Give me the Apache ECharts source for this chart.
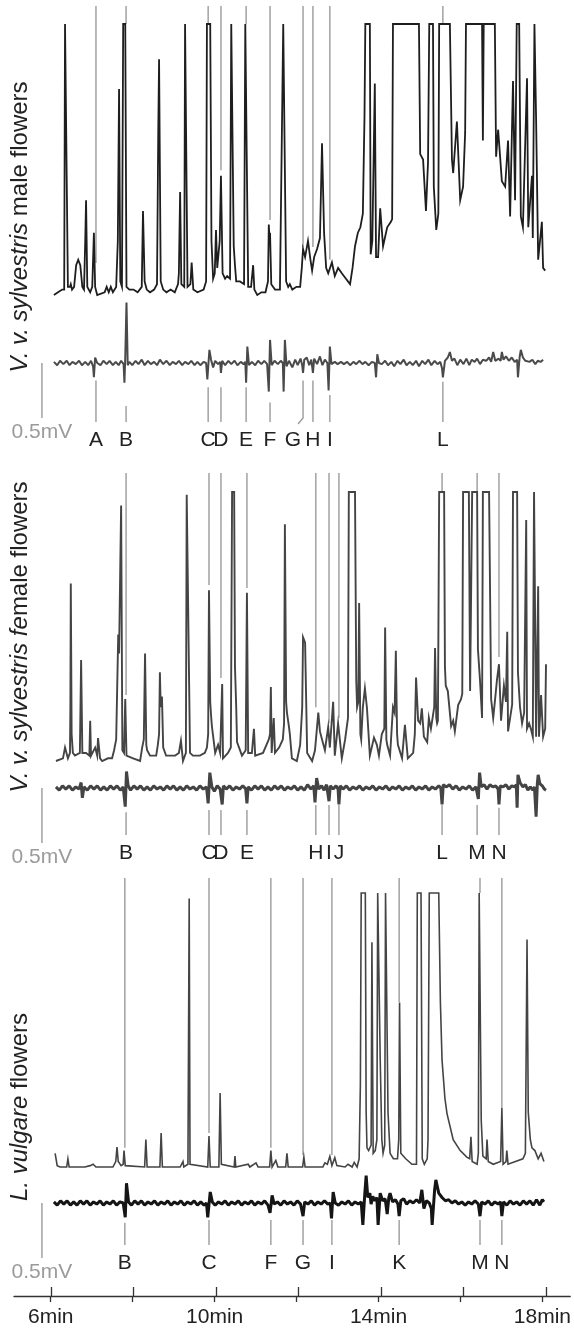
<!DOCTYPE html>
<html>
<head>
<meta charset="utf-8">
<script src="https://cdn.jsdelivr.net/npm/echarts@6/dist/echarts.min.js"></script>
<style>
  html, body { margin: 0; padding: 0; background: #fff; }
  #main { width: 574px; height: 1331px; }
</style>
</head>
<body>
<div id="main"></div>
<script>
// time axis (minutes)
var timeTicks = [6, 8, 10, 12, 14, 16, 18];
var timeLabels = [6, 10, 14, 18];
var scaleBarTime = 5.78;
var scaleBarMv = 0.5;

var titles = [
  '{i|V. v. sylvestris}{n| male flowers}',
  '{i|V. v. sylvestris fe}{n|male flowers}',
  '{i|L. vulgare}{n| flowers}'
];

// ---- panel 1 : V. v. sylvestris male flowers ----
// FID trace, [min, % of detector range]
var p1Fid = [[6.07,0],[6.17,1],[6.27,2],[6.32,2],[6.34,100],[6.38,100],[6.41,3],[6.46,3],[6.48,4],[6.51,2],[6.56,3],[6.61,11],[6.66,13],[6.71,11],[6.76,3],[6.80,2],[6.83,20],[6.85,35],[6.88,3],[6.95,1],[7.00,3],[7.04,23],[7.07,3],[7.12,0],[7.30,1],[7.35,3],[7.40,1],[7.45,3],[7.50,1],[7.58,3],[7.62,20],[7.65,76],[7.68,5],[7.72,3],[7.75,100],[7.80,100],[7.83,3],[7.90,2],[8.00,2],[8.10,1],[8.20,3],[8.23,31],[8.27,5],[8.32,2],[8.40,1],[8.50,2],[8.57,4],[8.60,60],[8.62,87],[8.66,5],[8.72,2],[8.80,1],[8.90,2],[9.00,1],[9.08,4],[9.10,8],[9.13,38],[9.16,4],[9.23,3],[9.25,100],[9.28,100],[9.31,3],[9.38,4],[9.41,12],[9.45,2],[9.55,1],[9.70,2],[9.76,5],[9.78,100],[9.86,100],[9.89,20],[9.93,6],[9.97,8],[10.00,24],[10.03,10],[10.06,15],[10.09,20],[10.12,44],[10.16,8],[10.22,6],[10.27,7],[10.34,6],[10.37,100],[10.40,100],[10.43,18],[10.46,11],[10.49,5],[10.58,5],[10.68,4],[10.71,100],[10.75,100],[10.78,3],[10.85,3],[10.90,11],[10.93,2],[11.00,0],[11.10,1],[11.20,1],[11.26,5],[11.28,26],[11.30,20],[11.31,23],[11.34,4],[11.43,2],[11.55,2],[11.63,100],[11.67,100],[11.70,5],[11.75,3],[11.79,4],[11.85,2],[11.95,3],[12.04,3],[12.08,10],[12.11,17],[12.16,14],[12.23,20],[12.29,13],[12.33,9],[12.38,14],[12.45,17],[12.52,21],[12.57,56],[12.62,23],[12.67,10],[12.72,8],[12.81,12],[12.88,7],[12.96,10],[13.05,8],[13.15,6],[13.25,4],[13.31,10],[13.37,18],[13.44,23],[13.50,25],[13.56,30],[13.60,66],[13.62,100],[13.73,100],[13.75,15],[13.79,20],[13.85,78],[13.88,14],[13.93,14],[13.98,32],[14.05,18],[14.15,25],[14.24,27],[14.27,28],[14.29,100],[14.92,100],[14.95,52],[15.02,50],[15.09,31],[15.14,49],[15.17,100],[15.26,100],[15.28,40],[15.34,24],[15.39,30],[15.41,100],[15.67,100],[15.72,50],[15.75,45],[15.84,64],[15.92,35],[15.99,40],[16.04,60],[16.06,100],[16.45,100],[16.47,57],[16.49,100],[16.76,100],[16.79,51],[16.84,61],[16.93,42],[17.01,40],[17.08,57],[17.13,29],[17.20,79],[17.25,35],[17.29,100],[17.35,100],[17.39,29],[17.44,25],[17.54,80],[17.57,25],[17.66,44],[17.68,21],[17.72,100],[17.76,65],[17.81,13],[17.90,27],[17.93,10],[17.98,9]];
// EAD trace, [min, mV]
var p1Ead = [[6.07,0.01],[6.15,-0.02],[6.22,0.02],[6.30,-0.01],[6.38,0.02],[6.45,-0.02],[6.52,0.01],[6.60,-0.01],[6.68,0.02],[6.75,-0.02],[6.83,0.01],[6.90,-0.02],[6.97,0.02],[7.02,-0.03],[7.04,-0.13],[7.07,0.05],[7.12,0],[7.20,-0.02],[7.27,0.02],[7.35,-0.01],[7.42,0.02],[7.50,-0.02],[7.57,0.01],[7.64,-0.02],[7.70,0.02],[7.76,-0.01],[7.78,-0.18],[7.80,0.05],[7.83,0.55],[7.86,-0.02],[7.90,0.01],[7.97,-0.02],[8.05,0.02],[8.12,-0.01],[8.20,0.03],[8.27,-0.02],[8.35,0.02],[8.42,-0.01],[8.50,0.01],[8.57,-0.02],[8.64,0.03],[8.72,-0.01],[8.80,0.02],[8.88,-0.02],[8.95,0.01],[9.03,-0.01],[9.10,0.02],[9.18,-0.02],[9.25,0.01],[9.33,-0.01],[9.40,0.02],[9.48,-0.02],[9.55,0.01],[9.62,-0.02],[9.70,0.01],[9.76,0],[9.79,-0.15],[9.84,0.12],[9.88,0.03],[9.93,-0.04],[9.98,0.02],[10.05,-0.01],[10.10,0.01],[10.12,-0.09],[10.15,0.02],[10.22,-0.02],[10.30,0.02],[10.37,-0.01],[10.45,0.02],[10.52,-0.02],[10.60,0.01],[10.67,-0.01],[10.71,0.01],[10.73,-0.18],[10.76,0.15],[10.80,-0.02],[10.87,0.01],[10.95,-0.02],[11.02,0.02],[11.10,-0.01],[11.17,0.02],[11.24,-0.01],[11.28,-0.26],[11.31,0.21],[11.35,-0.02],[11.42,0.02],[11.50,-0.01],[11.57,0.02],[11.62,0],[11.64,-0.26],[11.67,0.21],[11.71,-0.03],[11.77,0.02],[11.85,-0.04],[11.92,0.03],[11.98,-0.02],[12.05,0.04],[12.09,-0.02],[12.11,-0.09],[12.14,0.03],[12.20,0.05],[12.26,-0.02],[12.31,0.03],[12.35,-0.09],[12.38,0.04],[12.45,-0.01],[12.52,0.06],[12.58,-0.02],[12.64,0.03],[12.70,0],[12.73,-0.25],[12.76,0.15],[12.80,-0.01],[12.88,0.01],[12.95,-0.01],[13.03,0.01],[13.10,-0.01],[13.18,0.01],[13.25,-0.02],[13.33,0.01],[13.40,-0.01],[13.48,0.02],[13.55,-0.01],[13.62,0.01],[13.70,-0.02],[13.78,0.01],[13.85,0],[13.88,-0.13],[13.91,0.08],[13.95,0],[14.02,-0.01],[14.10,0.02],[14.17,-0.02],[14.25,0.01],[14.32,-0.03],[14.40,0.02],[14.47,-0.01],[14.55,0.03],[14.62,-0.02],[14.70,0.01],[14.77,-0.02],[14.85,0.02],[14.92,-0.03],[15.00,0.02],[15.07,-0.01],[15.15,0.03],[15.22,-0.02],[15.30,0.02],[15.37,-0.01],[15.44,0.01],[15.48,-0.05],[15.50,-0.13],[15.55,0.02],[15.62,0.05],[15.67,0.10],[15.72,0.02],[15.78,0.04],[15.85,-0.02],[15.92,0.03],[16.00,-0.01],[16.07,0.04],[16.14,-0.02],[16.20,0.03],[16.27,0.01],[16.33,0.04],[16.40,-0.01],[16.47,0.03],[16.55,0.02],[16.62,0.05],[16.67,0.01],[16.72,0.10],[16.77,0.02],[16.85,0.04],[16.90,0.02],[16.93,0.10],[16.97,0.03],[17.03,0.06],[17.10,0.02],[17.17,0.05],[17.24,0.01],[17.30,0.03],[17.32,-0.13],[17.36,0.05],[17.39,0.12],[17.44,0.05],[17.50,0.02],[17.54,0.03],[17.60,0.01],[17.67,0.03],[17.74,-0.01],[17.80,0.02],[17.87,0.01],[17.93,0.03]];
var p1Labels = ['A', 'B', 'C', 'D', 'E', 'F', 'G', 'H', 'I', 'L'];
var p1LabelTimes = [7.09, 7.82, 9.81, 10.12, 10.73, 11.31, 12.11, 12.35, 12.76, 15.50];
var p1TopStop = [11.8, 100, 100, 46, 100, 27.7, 17.7, 17.7, 13, 100];
var p1BottomStop = [-0.16, -0.39, -0.22, -0.22, -0.22, -0.36, -0.16, -0.16, -0.29, -0.17];

// ---- panel 2 : V. v. sylvestris female flowers ----
var p2Fid = [[6.12,0],[6.29,1],[6.34,5],[6.41,1],[6.46,3],[6.47,20],[6.48,66],[6.50,10],[6.53,3],[6.58,2],[6.70,3],[6.73,37.5],[6.76,3],[6.85,3],[6.93,2],[6.95,15],[6.97,2],[7.07,5],[7.12,2],[7.14,8.5],[7.19,1],[7.24,0],[7.38,1],[7.48,1],[7.53,4],[7.58,8],[7.63,47],[7.65,40],[7.70,95],[7.73,4],[7.77,3],[7.80,23],[7.83,2],[7.99,1],[8.16,0],[8.21,5],[8.25,8],[8.28,40],[8.31,6],[8.33,4],[8.40,2],[8.55,2],[8.59,6],[8.62,10],[8.64,33],[8.66,20],[8.69,24],[8.72,5],[8.79,2],[9.01,2],[9.10,3],[9.15,7.5],[9.20,0],[9.27,3],[9.29,99],[9.33,99],[9.37,3],[9.44,2],[9.61,2],[9.73,3],[9.78,5],[9.81,10],[9.83,63.5],[9.86,22],[9.88,17],[9.90,13],[9.98,3],[10.05,6],[10.10,3],[10.15,28.6],[10.17,1],[10.29,3],[10.36,5],[10.39,100],[10.44,100],[10.46,35],[10.49,20],[10.51,7],[10.63,2],[10.72,4],[10.75,62.5],[10.78,3],[10.87,3],[10.92,12],[10.95,2],[11.14,3],[11.28,8],[11.31,10],[11.33,27.5],[11.35,3],[11.40,16],[11.43,3],[11.53,5],[11.62,8],[11.65,14],[11.67,88],[11.70,22],[11.72,18],[11.77,12.6],[11.79,10],[11.84,1],[11.96,0],[12.04,6],[12.09,20],[12.11,46],[12.16,44],[12.21,3],[12.33,0],[12.40,4],[12.48,18],[12.52,11],[12.57,8],[12.64,4],[12.72,12.6],[12.76,5],[12.84,22],[12.88,2],[12.96,14],[13.05,1],[13.13,8],[13.20,16],[13.22,100],[13.37,100],[13.40,30],[13.42,20],[13.45,22],[13.47,58.7],[13.50,10],[13.52,8],[13.56,20],[13.61,27],[13.66,19.6],[13.73,2],[13.83,8.7],[13.90,6],[13.95,2],[14.02,10],[14.08,12],[14.10,49.6],[14.13,8],[14.15,6],[14.22,2],[14.29,20],[14.33,18],[14.36,41],[14.39,10],[14.41,6],[14.51,1],[14.58,13.4],[14.65,1],[14.78,3],[14.82,10],[14.85,31],[14.90,15],[14.95,14],[14.99,19.6],[15.04,9],[15.12,7],[15.16,16],[15.21,12],[15.26,17],[15.29,20],[15.31,42],[15.34,16],[15.36,14],[15.38,15],[15.41,100],[15.53,100],[15.55,35],[15.57,28],[15.62,26],[15.70,13],[15.75,15],[15.79,11],[15.87,20.8],[15.94,23],[15.97,25],[15.99,100],[16.13,100],[16.16,26],[16.18,26],[16.21,100],[16.33,100],[16.35,41.6],[16.40,30],[16.45,16],[16.47,100],[16.62,100],[16.67,23],[16.72,16],[16.76,22],[16.81,30],[16.86,36],[16.91,15],[16.98,28],[17.03,22],[17.06,48],[17.08,11],[17.13,16],[17.18,21],[17.20,100],[17.30,100],[17.32,33],[17.37,20],[17.42,14],[17.47,18],[17.52,89.6],[17.54,12],[17.59,14],[17.64,11.6],[17.68,9],[17.71,100],[17.73,100],[17.76,9],[17.81,65],[17.83,9],[17.88,24.5],[17.93,9],[17.98,12],[18.00,36]];
var p2Ead = [[6.12,0.01],[6.20,-0.02],[6.28,0.02],[6.36,-0.01],[6.44,0.02],[6.52,-0.02],[6.60,0.01],[6.68,-0.01],[6.73,0.05],[6.76,-0.09],[6.80,0.01],[6.88,-0.02],[6.96,0.02],[7.04,-0.01],[7.12,0.02],[7.20,-0.02],[7.28,0.01],[7.36,-0.02],[7.44,0.02],[7.52,-0.01],[7.60,0.02],[7.68,-0.02],[7.75,0.01],[7.80,-0.17],[7.83,0.15],[7.87,0.02],[7.93,-0.02],[8.01,0.02],[8.09,-0.01],[8.17,0.02],[8.25,-0.02],[8.33,0.01],[8.41,-0.02],[8.49,0.02],[8.57,-0.01],[8.65,0.01],[8.73,-0.02],[8.81,0.02],[8.89,-0.01],[8.97,0.02],[9.05,-0.02],[9.13,0.01],[9.21,-0.02],[9.29,0.02],[9.37,-0.01],[9.45,0.01],[9.53,-0.02],[9.61,0.02],[9.69,-0.01],[9.77,0.01],[9.81,-0.14],[9.85,0.14],[9.90,0.01],[9.96,-0.03],[10.03,0.02],[10.10,-0.01],[10.15,-0.15],[10.18,0.02],[10.25,-0.01],[10.33,0.02],[10.41,-0.02],[10.49,0.01],[10.57,-0.01],[10.65,0.02],[10.72,-0.01],[10.75,-0.14],[10.78,0.01],[10.86,-0.02],[10.94,0.02],[11.02,-0.01],[11.10,0.02],[11.18,-0.02],[11.26,0.01],[11.34,-0.02],[11.42,0.02],[11.50,-0.01],[11.58,0.02],[11.66,-0.02],[11.74,0.01],[11.82,-0.01],[11.90,0.02],[11.98,-0.02],[12.06,0.01],[12.14,-0.02],[12.22,0.03],[12.30,-0.01],[12.37,0.02],[12.40,-0.13],[12.44,0.09],[12.49,-0.01],[12.56,0.02],[12.62,-0.02],[12.68,0.03],[12.74,-0.12],[12.77,0.02],[12.84,-0.01],[12.91,0.02],[12.96,-0.01],[12.98,-0.15],[13.01,0.02],[13.08,-0.01],[13.16,0.02],[13.24,-0.02],[13.32,0.01],[13.40,-0.01],[13.48,0.02],[13.56,-0.02],[13.64,0.01],[13.72,-0.01],[13.80,0.02],[13.88,-0.02],[13.96,0.01],[14.04,-0.01],[14.12,0.02],[14.20,-0.02],[14.28,0.01],[14.36,-0.01],[14.44,0.02],[14.52,-0.02],[14.60,0.01],[14.68,-0.01],[14.76,0.02],[14.84,-0.02],[14.92,0.01],[15.00,-0.01],[15.08,0.02],[15.16,-0.02],[15.24,0.01],[15.32,-0.01],[15.40,0.02],[15.45,0],[15.48,-0.15],[15.51,0.03],[15.58,0.01],[15.66,0.03],[15.74,-0.01],[15.82,0.02],[15.90,-0.02],[15.98,0.01],[16.06,-0.01],[16.14,0.02],[16.22,-0.02],[16.30,0.01],[16.36,-0.10],[16.39,0.14],[16.43,0.01],[16.50,0.03],[16.57,-0.01],[16.64,0.03],[16.71,0.01],[16.78,0.02],[16.84,-0.01],[16.86,-0.15],[16.89,0.02],[16.96,0.01],[17.03,0.03],[17.10,-0.01],[17.17,0.02],[17.24,0.01],[17.28,0.03],[17.30,-0.18],[17.32,0.12],[17.37,0.05],[17.44,0.01],[17.50,0.03],[17.56,-0.02],[17.62,0.01],[17.68,-0.02],[17.72,0.01],[17.76,-0.26],[17.79,0.04],[17.81,0.12],[17.85,0.04],[17.91,0.02],[17.96,-0.01],[18.00,-0.02]];
var p2Labels = ['B', 'C', 'D', 'E', 'H', 'I', 'J', 'L', 'M', 'N'];
var p2LabelTimes = [7.82, 9.83, 10.12, 10.75, 12.42, 12.74, 12.98, 15.48, 16.33, 16.86];
var p2TopStop = [24.5, 65.4, 30.9, 64.3, 20, 14, 16, 100, 100, 38.7];
var p2BottomStop = [-0.22, -0.2, -0.2, -0.2, -0.155, -0.155, -0.155, -0.155, -0.155, -0.18];

// ---- panel 3 : L. vulgare flowers ----
var p3Fid = [[6.10,5],[6.15,0.5],[6.22,0],[6.38,0],[6.41,3],[6.44,0],[6.82,0],[6.95,0.5],[7.02,1],[7.09,0],[7.50,0],[7.57,2],[7.60,7.3],[7.63,2],[7.70,0.5],[7.75,1],[7.77,6],[7.80,0.5],[8.27,0],[8.30,10],[8.33,0],[8.64,0],[8.67,12.4],[8.70,0],[9.13,0],[9.20,2],[9.22,0],[9.32,1],[9.35,98],[9.37,1],[9.80,0],[9.83,11.3],[9.86,0],[10.07,0],[10.10,27],[10.13,1],[10.44,0],[10.46,4],[10.48,0],[10.78,1],[10.82,0],[10.97,1.5],[11.02,0],[11.30,0],[11.33,6],[11.36,0],[11.45,2.4],[11.50,0],[11.69,0],[11.72,5],[11.75,0],[12.10,0],[12.13,3.6],[12.16,0],[12.59,0],[12.64,1.5],[12.70,1],[12.76,3.9],[12.81,0.5],[12.88,3.4],[12.93,0.5],[13.13,0],[13.20,1],[13.30,0],[13.35,1.7],[13.42,0],[13.47,3],[13.50,30],[13.52,100],[13.62,100],[13.64,20],[13.66,7],[13.70,6],[13.76,8],[13.78,82],[13.81,5],[13.86,6],[13.90,10],[13.92,100],[13.96,100],[13.98,40],[14.02,10],[14.05,5],[14.09,8],[14.11,100],[14.14,100],[14.17,20],[14.22,5],[14.30,3],[14.40,3],[14.43,10],[14.45,60],[14.48,5],[14.60,3],[14.75,1],[14.86,1],[14.88,100],[14.97,100],[15.00,3],[15.05,1],[15.12,3],[15.14,10],[15.17,100],[15.40,100],[15.44,60],[15.48,39],[15.55,25],[15.60,19.5],[15.75,10],[15.92,6],[16.08,3.6],[16.15,3],[16.18,11],[16.21,2],[16.33,1],[16.36,5],[16.38,100],[16.41,100],[16.43,17],[16.47,4],[16.55,3],[16.57,10],[16.60,2],[16.72,1],[16.90,2],[16.93,21.5],[16.96,1],[17.03,2],[17.05,6],[17.08,1],[17.44,3],[17.50,5],[17.54,83],[17.57,20],[17.62,10],[17.66,7],[17.73,6],[17.81,3],[17.88,5],[17.95,2]];
var p3Ead = [[6.07,0.01],[6.15,-0.02],[6.23,0.02],[6.31,-0.01],[6.39,0.02],[6.47,-0.02],[6.55,0.01],[6.63,-0.02],[6.71,0.02],[6.79,-0.01],[6.87,0.02],[6.95,-0.02],[7.03,0.01],[7.11,-0.01],[7.19,0.02],[7.27,-0.02],[7.35,0.01],[7.43,-0.01],[7.51,0.02],[7.59,-0.02],[7.67,0.01],[7.75,0],[7.80,-0.13],[7.83,0.18],[7.88,0.01],[7.95,-0.02],[8.03,0.02],[8.11,-0.01],[8.19,0.02],[8.27,-0.02],[8.35,0.01],[8.43,-0.01],[8.51,0.02],[8.59,-0.02],[8.67,0.01],[8.75,-0.01],[8.83,0.02],[8.91,-0.02],[8.99,0.01],[9.07,-0.01],[9.15,0.02],[9.23,-0.02],[9.31,0.01],[9.39,-0.01],[9.47,0.02],[9.55,-0.02],[9.63,0.01],[9.71,-0.02],[9.77,0],[9.80,-0.13],[9.86,0.10],[9.91,0.01],[9.98,-0.02],[10.06,0.01],[10.14,-0.01],[10.22,0.02],[10.30,-0.02],[10.38,0.01],[10.46,-0.01],[10.54,0.02],[10.62,-0.02],[10.70,0.01],[10.78,-0.01],[10.86,0.02],[10.94,-0.02],[11.02,0.01],[11.10,-0.01],[11.18,0.02],[11.26,-0.02],[11.31,-0.09],[11.36,0.07],[11.41,-0.01],[11.49,0.01],[11.57,-0.02],[11.65,0.02],[11.73,-0.01],[11.81,0.01],[11.89,-0.02],[11.97,0.02],[12.05,-0.01],[12.11,-0.12],[12.15,0.01],[12.23,-0.01],[12.31,0.02],[12.39,-0.02],[12.47,0.01],[12.55,-0.01],[12.63,0.02],[12.71,-0.01],[12.77,0],[12.80,-0.14],[12.84,0.10],[12.89,0],[12.97,-0.02],[13.05,0.01],[13.13,-0.01],[13.21,0.02],[13.29,-0.02],[13.37,0.01],[13.45,-0.01],[13.52,0.01],[13.56,-0.20],[13.61,0.10],[13.64,0.25],[13.68,0.05],[13.73,0.09],[13.76,-0.01],[13.80,0.06],[13.85,0.02],[13.90,0.05],[13.93,-0.20],[13.98,0.09],[14.04,0.02],[14.10,0.04],[14.15,-0.10],[14.19,0.05],[14.22,0.09],[14.28,0.01],[14.35,0.03],[14.41,-0.01],[14.44,-0.12],[14.48,0.02],[14.55,0.04],[14.62,-0.01],[14.70,0.02],[14.78,0],[14.86,0.03],[14.94,0],[14.99,0.12],[15.04,-0.05],[15.10,0.02],[15.17,0],[15.22,-0.05],[15.24,-0.20],[15.30,0.12],[15.33,0.21],[15.40,0.09],[15.48,0.05],[15.56,0.02],[15.64,0.03],[15.72,0],[15.80,0.02],[15.88,-0.01],[15.96,0.01],[16.04,-0.02],[16.12,0.01],[16.20,-0.01],[16.28,0.02],[16.36,-0.01],[16.40,-0.12],[16.44,0.01],[16.52,-0.01],[16.60,0.02],[16.68,-0.02],[16.76,0.01],[16.84,-0.01],[16.90,0.01],[16.93,-0.12],[16.97,0.01],[17.05,-0.02],[17.13,0.02],[17.21,-0.01],[17.29,0.01],[17.37,-0.02],[17.45,0.02],[17.53,-0.01],[17.61,0.02],[17.69,-0.02],[17.77,0.03],[17.85,-0.02],[17.91,0.03],[17.95,0.01]];
var p3Labels = ['B', 'C', 'F', 'G', 'I', 'K', 'M', 'N'];
var p3LabelTimes = [7.79, 9.83, 11.33, 12.11, 12.81, 14.44, 16.40, 16.93];
var p3TopStop = [7, 12.4, 7, 4.4, 4.4, 60.2, 100, 21.5];
var p3BottomStop = [-0.18, -0.155, -0.155, -0.155, -0.155, -0.155, -0.155, -0.155];

// ---- layout (pixels) ----
var FONT = '"Liberation Sans", Arial, Helvetica, sans-serif';
var GUIDE = '#9b9b9b';
var X0 = 14, X6 = 51, X18 = 546, W = 574;
var pxPerMin = (X18 - X6) / 12;
var xMin = 6 - (X6 - X0) / pxPerMin;
var xMax = 18 + (W - X18) / pxPerMin;
var mvPx = 110; // pixels per mV
var layout = [
  {top: 6, bottom: 422, fidBase: 295, fidTop: 24, ead0: 363, title: 227},
  {top: 473, bottom: 835, fidBase: 761, fidTop: 492, ead0: 788, title: 637},
  {top: 878, bottom: 1245, fidBase: 1167, fidTop: 893, ead0: 1203, title: 1107}
];
var panels = [
  {fid: p1Fid, ead: p1Ead, names: p1Labels, times: p1LabelTimes, top: p1TopStop, bot: p1BottomStop,
   fidColor: '#1e1e1e', fidWidth: 1.8, eadColor: '#4a4a4a', eadWidth: 2, shift: {G: -10}},
  {fid: p2Fid, ead: p2Ead, names: p2Labels, times: p2LabelTimes, top: p2TopStop, bot: p2BottomStop,
   fidColor: '#444', fidWidth: 1.9, eadColor: '#444', eadWidth: 3, shift: {}},
  {fid: p3Fid, ead: p3Ead, names: p3Labels, times: p3LabelTimes, top: p3TopStop, bot: p3BottomStop,
   fidColor: '#444', fidWidth: 1.6, eadColor: '#151515', eadWidth: 3, shift: {}}
];

var myChart = echarts.init(document.getElementById('main'));

var grid = [], xAxis = [], yAxis = [], series = [];

layout.forEach(function (l, i) {
  var p = panels[i];
  var k = (l.fidBase - l.fidTop) / 100;
  var fidMin = -(l.bottom - l.fidBase) / k, fidMax = (l.fidBase - l.top) / k;
  var eadMin = -(l.bottom - l.ead0) / mvPx, eadMax = (l.ead0 - l.top) / mvPx;

  grid.push({left: X0, width: W - X0, top: l.top, height: l.bottom - l.top});
  xAxis.push({gridIndex: i, type: 'value', min: xMin, max: xMax, show: false});
  yAxis.push({gridIndex: i, type: 'value', min: fidMin, max: fidMax, show: false});
  yAxis.push({gridIndex: i, type: 'value', min: eadMin, max: eadMax, show: false});

  series.push({
    type: 'line', xAxisIndex: i, yAxisIndex: 2 * i, data: p.fid,
    showSymbol: false, symbol: 'none', silent: true,
    lineStyle: {color: p.fidColor, width: p.fidWidth, join: 'miter'}
  });
  series.push({
    type: 'line', xAxisIndex: i, yAxisIndex: 2 * i + 1, data: p.ead,
    showSymbol: false, symbol: 'none', silent: true,
    lineStyle: {color: p.eadColor, width: p.eadWidth}
  });

  // gray guide lines from top down to the FID peak
  series.push({
    type: 'custom', xAxisIndex: i, yAxisIndex: 2 * i, silent: true,
    data: p.times.map(function (t, j) { return [t, p.top[j]]; }),
    renderItem: function (params, api) {
      var a = api.coord([api.value(0), fidMax]);
      var b = api.coord([api.value(0), api.value(1)]);
      return {type: 'line', shape: {x1: a[0], y1: a[1], x2: b[0], y2: b[1]},
        style: {stroke: GUIDE, lineWidth: 1.4}};
    }
  });

  // guide lines under the EAD response, with compound letters
  series.push({
    type: 'custom', xAxisIndex: i, yAxisIndex: 2 * i + 1, silent: true,
    data: p.times.map(function (t, j) { return [t, p.bot[j]]; }),
    renderItem: function (params, api) {
      var name = p.names[params.dataIndex];
      var a = api.coord([api.value(0), api.value(1)]);
      var b = api.coord([api.value(0), eadMin]);
      var dx = p.shift[name] || 0;
      var guide = dx ?
        {type: 'polyline', shape: {points: [a, [b[0], b[1] - 4], [b[0] + dx * 0.5, b[1] + 2]]},
          style: {stroke: GUIDE, lineWidth: 1.4, fill: null}} :
        {type: 'line', shape: {x1: a[0], y1: a[1], x2: b[0], y2: b[1]},
          style: {stroke: GUIDE, lineWidth: 1.4}};
      return {type: 'group', children: [guide, {
        type: 'text', x: b[0] + dx, y: b[1] + 18,
        style: {text: name, fill: '#222', fontSize: 21, fontFamily: FONT,
          align: 'center', verticalAlign: 'middle'}
      }]};
    }
  });

  // 0.5 mV scale bar
  series.push({
    type: 'custom', xAxisIndex: i, yAxisIndex: 2 * i + 1, silent: true,
    data: [[scaleBarTime, 0, -scaleBarMv]],
    renderItem: function (params, api) {
      var a = api.coord([api.value(0), api.value(1)]);
      var b = api.coord([api.value(0), api.value(2)]);
      return {type: 'group', children: [
        {type: 'line', shape: {x1: a[0], y1: a[1], x2: b[0], y2: b[1]},
          style: {stroke: GUIDE, lineWidth: 1.4}},
        {type: 'text', x: b[0], y: b[1] + 14,
          style: {text: scaleBarMv + 'mV', fill: '#9b9b9b', fontSize: 21, fontFamily: FONT,
            align: 'center', verticalAlign: 'middle'}}
      ]};
    }
  });
});

// time axis at the bottom: one grid for the line + downward ticks, one for upward ticks
grid.push({left: X0, width: W - X0, top: 1286, height: 10});
grid.push({left: X0, width: W - X0, top: 1286, height: 10});
xAxis.push({
  gridIndex: 3, type: 'value', min: xMin, max: xMax, position: 'bottom',
  axisLine: {show: true, onZero: false, lineStyle: {color: '#333', width: 1.3}},
  axisTick: {show: true, customValues: timeTicks, length: 6, lineStyle: {color: '#333', width: 1.3}},
  axisLabel: {show: true, customValues: timeLabels, formatter: '{value}min', margin: 11,
    fontSize: 21, color: '#222', fontFamily: FONT},
  splitLine: {show: false}
});
xAxis.push({
  gridIndex: 4, type: 'value', min: xMin, max: xMax, position: 'bottom',
  axisLine: {show: false},
  axisTick: {show: true, inside: true, customValues: timeTicks, length: 9, lineStyle: {color: '#333', width: 1.3}},
  axisLabel: {show: false},
  splitLine: {show: false}
});
yAxis.push({gridIndex: 3, type: 'value', show: false});
yAxis.push({gridIndex: 4, type: 'value', show: false});

var option = {
  animation: false,
  backgroundColor: '#fff',
  grid: grid,
  xAxis: xAxis,
  yAxis: yAxis,
  series: series,
  graphic: layout.map(function (l, i) {
    return {
      type: 'text', x: 20, y: l.title, rotation: Math.PI / 2,
      style: {
        text: titles[i], align: 'center', verticalAlign: 'middle',
        fontSize: 24, fontFamily: FONT, fill: '#222',
        rich: {
          i: {fontStyle: 'italic', fontSize: 24, fontFamily: FONT, fill: '#222'},
          n: {fontSize: 24, fontFamily: FONT, fill: '#222'}
        }
      }
    };
  })
};

myChart.setOption(option);
</script>
</body>
</html>
